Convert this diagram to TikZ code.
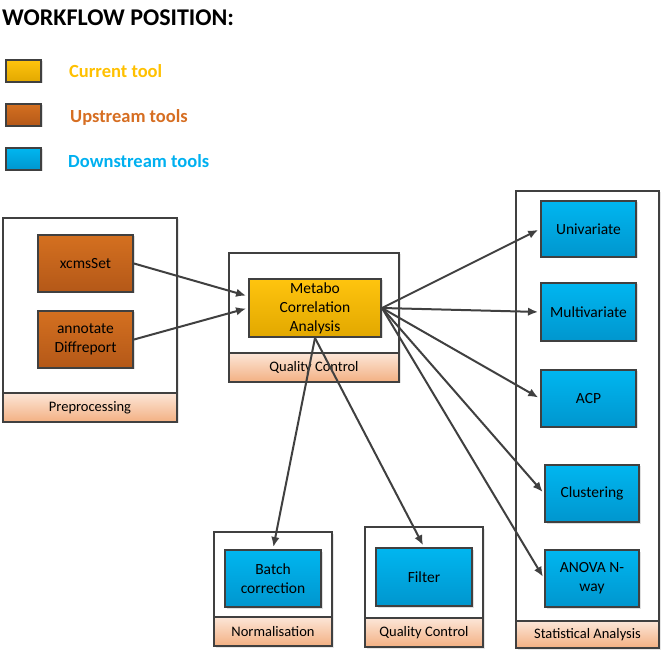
\documentclass[tikz,border=0pt]{standalone}
\usepackage{fontspec}
\setmainfont{Carlito}
\usepackage{tikz}
\usetikzlibrary{arrows,arrows.meta,shadows}

\definecolor{edge}{RGB}{64,64,64}
\definecolor{curtop}{RGB}{255,196,14}
\definecolor{curbot}{RGB}{226,168,0}
\definecolor{uptop}{RGB}{212,112,32}
\definecolor{upbot}{RGB}{180,88,24}
\definecolor{downtop}{RGB}{0,182,240}
\definecolor{downbot}{RGB}{0,150,206}
\definecolor{bandtop}{RGB}{252,230,216}
\definecolor{bandbot}{RGB}{243,176,130}
\definecolor{curtext}{RGB}{255,192,0}
\definecolor{uptext}{RGB}{214,110,34}
\definecolor{downtext}{RGB}{0,176,240}

\begin{document}
\begin{tikzpicture}[>={Latex[length=10pt,width=8.5pt]}, x=1pt, y=-1pt,
	tool/.style={draw=edge, line width=2pt, align=center, inner sep=2pt,
		minimum width=95pt, minimum height=57pt,
		font=\fontsize{15.5}{19}\selectfont,
		drop shadow={shadow xshift=1.5pt, shadow yshift=-1.5pt, opacity=0.25}},
	current/.style={tool, top color=curtop, bottom color=curbot},
	upstream/.style={tool, top color=uptop, bottom color=upbot},
	downstream/.style={tool, top color=downtop, bottom color=downbot},
	panel/.style={draw=edge, line width=2pt, fill=white,
		drop shadow={shadow xshift=1.5pt, shadow yshift=-1.5pt, opacity=0.2}},
	band/.style={draw=edge, line width=2pt, top color=bandtop, bottom color=bandbot,
		font=\fontsize{14.5}{17}\selectfont},
	legend/.style={anchor=base west, inner sep=0pt, font=\bfseries\fontsize{18.5}{22}\selectfont},
	link/.style={->, draw=edge, line width=2pt, shorten >=2pt}]
	%\draw [help lines] (0,0) grid (662,652);
	\useasboundingbox (0,0) rectangle (662,652);

	\node [anchor=west, inner sep=0pt, font=\bfseries\fontsize{24}{28}\selectfont] (title) at (2,18) {WORKFLOW POSITION:};

	% legend
	\node [current, minimum width=35pt, minimum height=22pt] (keycur) at (23.5,71) {};
	\node [upstream, minimum width=35pt, minimum height=22pt] (keyup) at (23.5,115) {};
	\node [downstream, minimum width=35pt, minimum height=22pt] (keydown) at (23.5,159) {};
	\node [legend, text=curtext] (txtcur) at (69,78) {Current tool};
	\node [legend, text=uptext] (txtup) at (70,123) {Upstream tools};
	\node [legend, text=downtext] (txtdown) at (68,168) {Downstream tools};

	% panels
	\node [panel, minimum width=174pt, minimum height=204pt] (prepro) at (90,320) {};
	\node [band, minimum width=174pt, minimum height=29pt] (preprolab) at (90,407.5) {Preprocessing};
	\node [panel, minimum width=170pt, minimum height=129pt] (qcmid) at (314,317.5) {};
	\node [band, minimum width=170pt, minimum height=29pt] (qcmidlab) at (314,367.5) {Quality Control};
	\node [panel, minimum width=143pt, minimum height=457pt] (stat) at (587.5,419.5) {};
	\node [band, minimum width=143pt, minimum height=27pt] (statlab) at (587.5,634.5) {Statistical Analysis};
	\node [panel, minimum width=118pt, minimum height=114pt] (norm) at (273,589) {};
	\node [band, minimum width=118pt, minimum height=29pt] (normlab) at (273,631.5) {Normalisation};
	\node [panel, minimum width=118pt, minimum height=120pt] (qclow) at (424,587) {};
	\node [band, minimum width=118pt, minimum height=29pt] (qclowlab) at (424,632.5) {Quality Control};

	% tools
	\node [upstream] (xcms) at (85.5,263.5) {xcmsSet};
	\node [upstream] (annot) at (85.5,339.5) {annotate\\Diffreport};
	\node [current, minimum width=132pt, minimum height=58pt] (metabo) at (315,308) {Metabo\\Correlation\\Analysis};
	\node [downstream, minimum height=56pt] (univ) at (588.5,229) {Univariate};
	\node [downstream, minimum height=58pt] (multi) at (588.5,312) {Multivariate};
	\node [downstream] (acp) at (588.5,398.5) {ACP};
	\node [downstream, minimum width=94pt] (clust) at (592,493.5) {Clustering};
	\node [downstream, minimum width=94pt] (anova) at (592,578.5) {ANOVA N-\\way};
	\node [downstream, minimum width=96pt] (batch) at (273,578.5) {Batch\\correction};
	\node [downstream, minimum width=96pt, minimum height=58pt] (filter) at (424,577) {Filter};

	\draw [link] (xcms.east) -- (metabo.170);
	\draw [link] (annot.east) -- (metabo.west);
	\draw [link] (metabo.east) -- (univ.west);
	\draw [link] (metabo.east) -- (multi.west);
	\draw [link] (metabo.east) -- (acp.west);
	\draw [link] (metabo.east) -- (clust.west);
	\draw [link] (metabo.east) -- (anova.west);
	\draw [link] (metabo.south) -- (batch.north);
	\draw [link] (metabo.south) -- (filter.north);
\end{tikzpicture}
\end{document}
